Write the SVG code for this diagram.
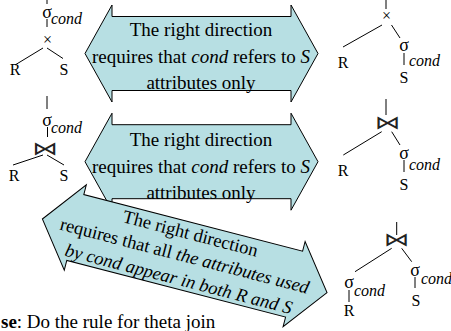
<svg xmlns="http://www.w3.org/2000/svg" width="451" height="331" viewBox="0 0 451 331">
<style>
.bg{fill:#fff}
.arr{fill:#b7dfe3;stroke:#000;stroke-width:1}
.t{font-family:"Liberation Serif","Times New Roman",serif;fill:#000}
.big{font-size:19px}
.big3{font-size:18.5px}
.sg{font-size:18px}
.cd{font-size:16px;font-style:italic}
.rs{font-size:16px}
.i{font-style:italic}
.op{font-family:"DejaVu Sans",sans-serif;font-size:19px;fill:#222}
.e line{stroke:#000;stroke-width:1;fill:none}
</style>
<rect class="bg" width="451" height="331"/>
<g id="tree1" class="e">
<line x1="47" y1="-1" x2="47" y2="4"/>
<text class="t sg" x="47" y="17.5" text-anchor="middle">σ</text>
<text class="t cd" x="51" y="24">cond</text>
<line x1="47" y1="19" x2="47" y2="27"/>
<text class="t rs" x="47.5" y="45" text-anchor="middle">×</text>
<line x1="15" y1="65" x2="43" y2="48"/>
<line x1="47" y1="48" x2="63" y2="58.5"/>
<text class="t rs" x="15" y="75" text-anchor="middle">R</text>
<text class="t rs" x="64" y="75" text-anchor="middle">S</text>
</g>
<g id="tree2" class="e">
<line x1="47" y1="96" x2="47" y2="109"/>
<text class="t sg" x="47" y="125.5" text-anchor="middle">σ</text>
<text class="t cd" x="51" y="133">cond</text>
<line x1="47.5" y1="127" x2="47.5" y2="137"/>
<text class="op" transform="translate(45,154.5) scale(1.35,1)" text-anchor="middle">⋈</text>
<line x1="13" y1="165" x2="43" y2="155"/>
<line x1="47" y1="155" x2="64" y2="165"/>
<text class="t rs" x="14" y="181" text-anchor="middle">R</text>
<text class="t rs" x="64" y="181" text-anchor="middle">S</text>
</g>
<g id="tree3" class="e">
<line x1="386" y1="-1" x2="386" y2="9"/>
<text class="t rs" x="386.5" y="21" text-anchor="middle">×</text>
<line x1="382" y1="25" x2="343" y2="47"/>
<line x1="391.5" y1="25" x2="400" y2="38"/>
<text class="t sg" x="404" y="50.5" text-anchor="middle">σ</text>
<text class="t cd" x="409" y="66">cond</text>
<line x1="404" y1="53" x2="404" y2="65"/>
<text class="t rs" x="404" y="83" text-anchor="middle">S</text>
<text class="t rs" x="343" y="68" text-anchor="middle">R</text>
</g>
<g id="tree4" class="e">
<line x1="386" y1="99" x2="386" y2="115"/>
<text class="op" transform="translate(387.5,128.5) scale(1.35,1)" text-anchor="middle">⋈</text>
<line x1="381.7" y1="131.7" x2="343.3" y2="155"/>
<line x1="391.7" y1="131.7" x2="400" y2="145"/>
<text class="t sg" x="404" y="158.5" text-anchor="middle">σ</text>
<text class="t cd" x="409" y="170">cond</text>
<line x1="404" y1="160" x2="404" y2="172"/>
<text class="t rs" x="343" y="175.5" text-anchor="middle">R</text>
<text class="t rs" x="404" y="190" text-anchor="middle">S</text>
</g>
<g id="tree5" class="e">
<line x1="396.7" y1="222" x2="396.7" y2="235"/>
<text class="op" transform="translate(396.5,246) scale(1.35,1)" text-anchor="middle">⋈</text>
<line x1="391.7" y1="248.3" x2="355" y2="271.7"/>
<line x1="401.7" y1="248.3" x2="411.7" y2="261.7"/>
<text class="t sg" x="415" y="275.5" text-anchor="middle">σ</text>
<text class="t cd" x="421" y="284">cond</text>
<line x1="415" y1="277" x2="415" y2="288"/>
<text class="t rs" x="416" y="306" text-anchor="middle">S</text>
<text class="t sg" x="349" y="288" text-anchor="middle">σ</text>
<text class="t cd" x="354" y="296">cond</text>
<line x1="349" y1="290" x2="349" y2="302"/>
<text class="t rs" x="349" y="316" text-anchor="middle">R</text>
</g>
<g id="arrow1">
<path class="arr" transform="translate(201.5,53.5)" d="M-116.5,0 L-89.5,-48.5 L-89.5,-37 L89.5,-37 L89.5,-48.5 L116.5,0 L89.5,48.5 L89.5,37 L-89.5,37 L-89.5,48.5 Z"/>
<text class="t big" x="201" y="36" text-anchor="middle">The right direction</text>
<text class="t big" x="201" y="63" text-anchor="middle">requires that <tspan class="i">cond</tspan> refers to <tspan class="i">S</tspan></text>
<text class="t big" x="201" y="89" text-anchor="middle">attributes only</text>
</g>
<g id="arrow2">
<path class="arr" transform="translate(201.5,161.7)" d="M-116.5,0 L-89.5,-48.5 L-89.5,-37 L89.5,-37 L89.5,-48.5 L116.5,0 L89.5,48.5 L89.5,37 L-89.5,37 L-89.5,48.5 Z"/>
<text class="t big" x="201" y="146" text-anchor="middle">The right direction</text>
<text class="t big" x="201" y="172.5" text-anchor="middle">requires that <tspan class="i">cond</tspan> refers to <tspan class="i">S</tspan></text>
<text class="t big" x="201" y="198.5" text-anchor="middle">attributes only</text>
</g>
<g id="arrow3" transform="translate(184.7,255.8) rotate(14.5)">
<path class="arr" d="M-147,0 L-113,-44 L-113,-34 L113,-34 L113,-44 L147,0 L113,44 L113,34 L-113,34 L-113,44 Z"/>
<text class="t big3" x="0" y="-17" text-anchor="middle">The right direction</text>
<text class="t big3" x="0" y="6" text-anchor="middle">requires that all <tspan class="i">the attributes used</tspan></text>
<text class="t big3 i" x="0" y="30" text-anchor="middle">by cond appear in both R and S</text>
</g>
<g id="note">
<text class="t" x="1" y="328" font-size="19"><tspan font-weight="bold">se</tspan>: Do the rule for theta join</text>
</g>
</svg>
